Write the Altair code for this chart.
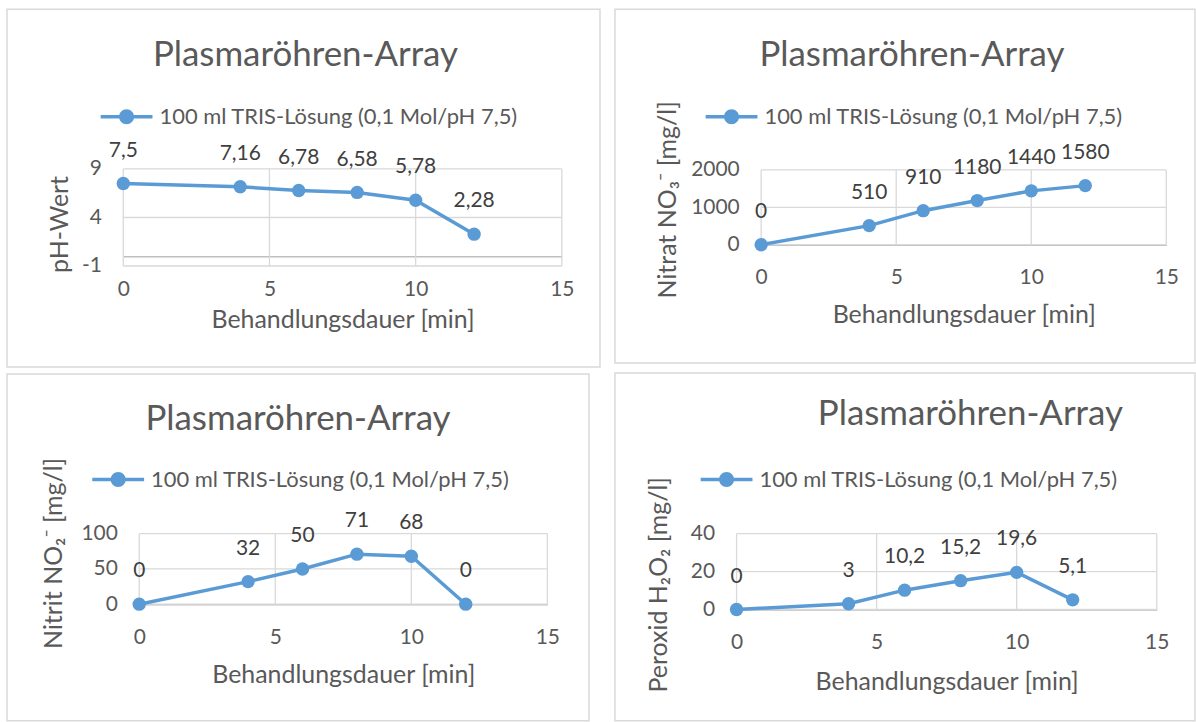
import altair as alt
import pandas as pd

# ---------------- data ----------------
TIME_MIN = [0, 4, 6, 8, 10, 12]
PH_WERT = [7.5, 7.16, 6.78, 6.58, 5.78, 2.28]
NITRAT = [0, 510, 910, 1180, 1440, 1580]
NITRIT = [0, 32, 50, 71, 68, 0]
PEROXID = [0, 3, 10.2, 15.2, 19.6, 5.1]

SERIES = "100 ml TRIS-Lösung (0,1 Mol/pH 7,5)"
TITLE = "Plasmaröhren-Array"
X_TITLE = "Behandlungsdauer [min]"
X_TICKS = [0, 5, 10, 15]
PH_TICKS = [-1, 4, 9]
NITRAT_TICKS = [0, 1000, 2000]
NITRIT_TICKS = [0, 50, 100]
PEROXID_TICKS = [0, 20, 40]
Y_TITLES = ["pH-Wert", "Nitrat NO₃⁻ [mg/l]", "Nitrit NO₂⁻ [mg/l]", "Peroxid H₂O₂ [mg/l]"]

# ---------------- style ----------------
FONT = "Lato"
BLUE = "#5b9bd5"
TEXT = "#595959"
LABEL = "#404040"
GRID = "#d9d9d9"
AXISLINE = "#bfbfbf"
LEGEND_SYMBOL = ("M-1,-0.067H1V0.067H-1Z"
                 "M-0.29,0A0.29,0.29 0 1 1 0.29,0A0.29,0.29 0 1 1 -0.29,0Z")
TITLE_DY = 36
AXIS_TITLE_SIZE = 25

LAYOUT = {
    "TL": dict(size=(595, 359), xr=[116.7, 556.7], yr=[257.7, 160.3], y0=248.0,
               title=(299.5, 56.3), legend=(94, 109), ytitle=(53, 215.5), xty=63.3),
    "TR": dict(size=(582, 355), xr=[146.7, 553.2], yr=[236.3, 161.3], y0=236.3,
               title=(298, 56.3), legend=(91, 109), ytitle=(53, 190.8), xty=70),
    "BL": dict(size=(584, 348), xr=[132.7, 542.2], yr=[231.0, 160.3], y0=231.0,
               title=(292, 55.3), legend=(85.6, 107), ytitle=(47, 179.5), xty=71),
    "BR": dict(size=(582, 349), xr=[122.0, 543.6], yr=[237.3, 161.3], y0=237.3,
               title=(356.6, 51), legend=(86, 108), ytitle=(44, 212), xty=72.4),
}


def panel(values, yticks, ytitle, lay):
    W, H = lay["size"]
    ymin, ymax = min(yticks), max(yticks)
    xs = alt.Scale(domain=[min(X_TICKS), max(X_TICKS)], range=lay["xr"], nice=False, zero=False)
    ys = alt.Scale(domain=[ymin, ymax], range=lay["yr"], nice=False, zero=False)

    df = pd.DataFrame({"t": TIME_MIN, "v": values, "series": SERIES})
    hg = pd.DataFrame({"g": yticks, "a": min(X_TICKS), "b": max(X_TICKS)})
    vg = pd.DataFrame({"g": X_TICKS, "a": ymin, "b": ymax})

    xaxis = alt.Axis(
        values=X_TICKS, labelExpr="toString(datum.value)", grid=False, ticks=False,
        domain=True, domainColor=AXISLINE, domainWidth=1.5,
        offset=lay["y0"] - H, labelPadding=22, labelFlush=False,
        labelFont=FONT, labelFontSize=21, labelColor=TEXT,
        title=X_TITLE, titleFont=FONT, titleFontSize=AXIS_TITLE_SIZE, titleFontWeight="normal",
        titleColor=TEXT,
        titleX=(lay["xr"][0] + lay["xr"][1]) / 2, titleY=lay["xty"], titleBaseline="middle",
        titleAlign="center",
    )
    yaxis = alt.Axis(
        values=yticks, labelExpr="toString(datum.value)", grid=False, ticks=False,
        domain=False, offset=-lay["xr"][0], labelPadding=22,
        labelFont=FONT, labelFontSize=21, labelColor=TEXT,
        title=ytitle, titleFont=FONT, titleFontSize=AXIS_TITLE_SIZE, titleFontWeight="normal",
        titleColor=TEXT,
        titleX=lay["ytitle"][0] - lay["xr"][0], titleY=lay["ytitle"][1], titleAngle=270,
        titleBaseline="middle", titleAlign="center",
    )

    hgrid = alt.Chart(hg).mark_rule(color=GRID, strokeWidth=1.3).encode(
        y=alt.Y("g:Q", scale=ys),
        x=alt.X("a:Q", scale=xs), x2="b:Q")
    vgrid = alt.Chart(vg).mark_rule(color=GRID, strokeWidth=1.3).encode(
        x=alt.X("g:Q", scale=xs),
        y=alt.Y("a:Q", scale=ys), y2="b:Q")
    line = alt.Chart(df).mark_line(color=BLUE, strokeWidth=3.5).encode(
        x=alt.X("t:Q", scale=xs, axis=xaxis),
        y=alt.Y("v:Q", scale=ys, axis=yaxis))
    pts = alt.Chart(df).mark_circle(size=180, opacity=1).encode(
        x=alt.X("t:Q", scale=xs),
        y=alt.Y("v:Q", scale=ys),
        color=alt.Color("series:N", scale=alt.Scale(range=[BLUE]),
                        legend=alt.Legend(title=None, orient="none",
                                          legendX=lay["legend"][0], legendY=lay["legend"][1] - 27,
                                          symbolType=LEGEND_SYMBOL, symbolSize=2704,
                                          symbolStrokeWidth=0, symbolOpacity=1, labelLimit=0,
                                          labelFont=FONT, labelFontSize=22, labelColor=TEXT,
                                          labelOffset=7)))
    labels = alt.Chart(df).transform_calculate(
        lbl="replace(toString(datum.v), '.', ',')"
    ).mark_text(dy=-33, font=FONT, fontSize=21, color=LABEL, baseline="middle").encode(
        x=alt.X("t:Q", scale=xs),
        y=alt.Y("v:Q", scale=ys),
        text="lbl:N")

    return alt.layer(hgrid, vgrid, line, pts, labels).properties(
        width=W, height=H,
        title=alt.TitleParams(text=TITLE, anchor="start", align="center", frame="group",
                              dx=lay["title"][0], dy=TITLE_DY, offset=-lay["title"][1],
                              baseline="alphabetic",
                              font=FONT, fontSize=35, fontWeight="normal", color=TEXT),
    )


tl = panel(PH_WERT, PH_TICKS, Y_TITLES[0], LAYOUT["TL"])
tr = panel(NITRAT, NITRAT_TICKS, Y_TITLES[1], LAYOUT["TR"])
bl = panel(NITRIT, NITRIT_TICKS, Y_TITLES[2], LAYOUT["BL"])
br = panel(PEROXID, PEROXID_TICKS, Y_TITLES[3], LAYOUT["BR"])


def indep(c):
    return c.resolve_scale(x="independent", y="independent", color="independent").resolve_legend(
        color="independent")


left = indep(alt.vconcat(tl, bl, spacing=7, bounds="flush"))
right = indep(alt.vconcat(tr, br, spacing=10, bounds="flush"))

chart = indep(alt.hconcat(left, right, spacing=13)).properties(
    padding={"left": 6, "top": 7, "right": 0, "bottom": 0},
    background="white",
).configure_view(stroke=GRID, strokeWidth=1.5)

chart.save("out.html", embed_options={"renderer": "svg", "actions": False})
